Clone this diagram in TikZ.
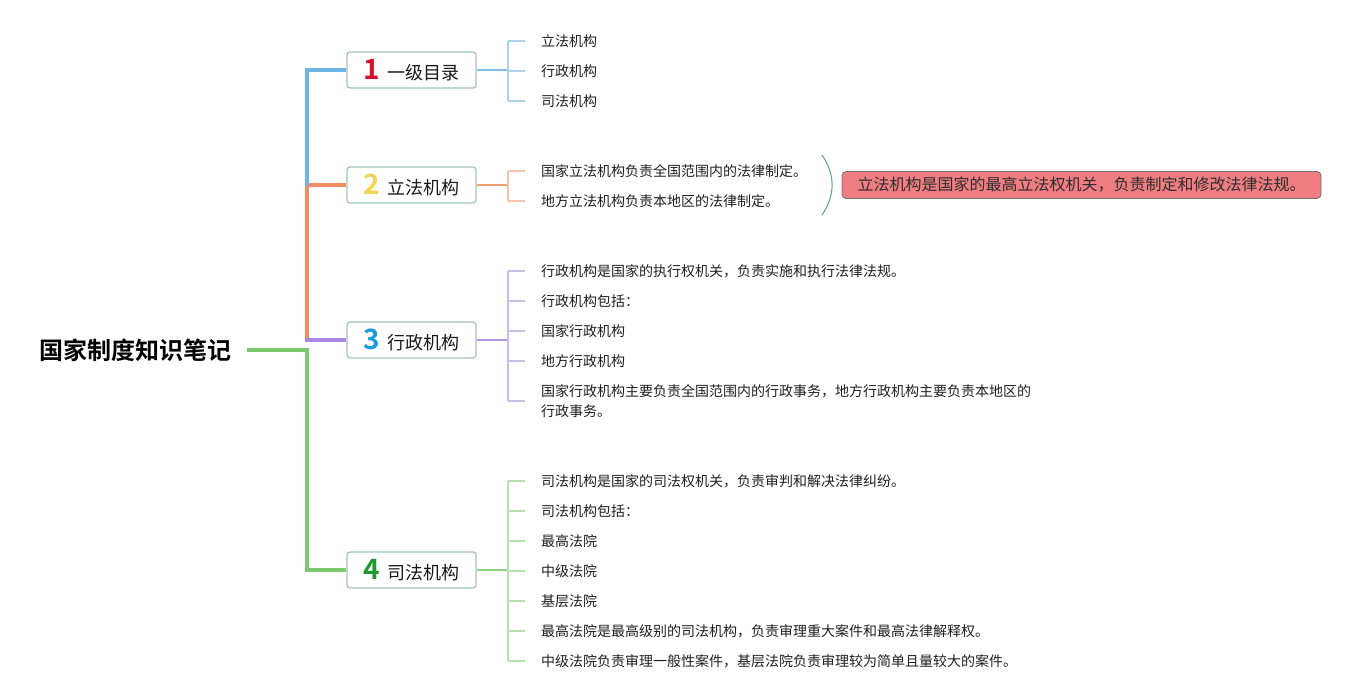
\documentclass[tikz,border=0pt]{standalone}
\usepackage{fontspec}
\setmainfont{Noto Sans CJK SC}[BoldFont={Noto Sans CJK SC Bold}]
\definecolor{cblue}{HTML}{6CB4E4}
\definecolor{cblueL}{HTML}{A9D3EE}
\definecolor{corange}{HTML}{F18C5E}
\definecolor{corangeL}{HTML}{F6C3A8}
\definecolor{cpurple}{HTML}{A786E4}
\definecolor{cpurpleL}{HTML}{CBBBEA}
\definecolor{cgreen}{HTML}{7BC86F}
\definecolor{cgreenL}{HTML}{B6E0AE}
\definecolor{boxborder}{HTML}{9DC4BC}
\definecolor{nred}{HTML}{D8102C}
\definecolor{nyellow}{HTML}{F3D64E}
\definecolor{nblue}{HTML}{1E9AE0}
\definecolor{ngreen}{HTML}{1C9A2C}
\definecolor{callfill}{HTML}{F07D81}
\definecolor{braceC}{HTML}{5E9E8E}
\newcommand\bignum[2]{{\color{#1}\fontsize{28}{28}\selectfont\bfseries #2}}
\tikzset{
  rootst/.style={anchor=east, inner xsep=15pt, inner ysep=0pt, font=\fontsize{24}{28}\selectfont\bfseries, text=black},
  mainbox/.style={draw=boxborder, line width=1.2pt, rounded corners=3pt, fill=white, minimum width=129pt, minimum height=36pt, inner sep=0pt, font=\fontsize{18}{20}\selectfont, text=black!90},
  leaf/.style={anchor=west, inner sep=0pt, font=\fontsize{14}{20}\selectfont, text=black!88, align=left},
  trunk/.style={line width=4.5pt},
  sub/.style={line width=2pt},
  leafl/.style={line width=1.2pt},
  callout/.style={fill=callfill, draw=black!55, line width=0.8pt, rounded corners=4pt, minimum width=479pt, minimum height=27pt, inner sep=0pt, font=\fontsize{16}{18}\selectfont, text=black!82},
}
\begin{document}
\begin{tikzpicture}[x=1pt,y=-1pt]
\useasboundingbox (0,0) rectangle (1366,700);
% root and main boxes
\node[rootst] (root) at (247,350) {国家制度知识笔记};
\node[mainbox] (m1) at (411.5,70) {\bignum{nred}{1}\hspace{8pt}一级目录};
\node[mainbox] (m2) at (411.5,185) {\bignum{nyellow}{2}\hspace{8pt}立法机构};
\node[mainbox] (m3) at (411.5,340) {\bignum{nblue}{3}\hspace{8pt}行政机构};
\node[mainbox] (m4) at (411.5,570) {\bignum{ngreen}{4}\hspace{8pt}司法机构};
% trunk
\coordinate (j1) at (307,185);
\coordinate (j3) at (307,340);
\coordinate (j4) at (307,350);
\draw[trunk, cgreen] (root.east) -- (j4) |- (m4.west);
\draw[trunk, corange] (j3) |- (m2.west);
\draw[trunk, cpurple] ([xshift=-2.25pt]j3) -- (m3.west);
\draw[trunk, cblue] ([yshift=-1pt]j1) |- (m1.west);
% group 1
\node[leaf] (l11) at (541,41) {立法机构};
\node[leaf] (l12) at (541,71) {行政机构};
\node[leaf] (l13) at (541,101) {司法机构};
\coordinate (b1) at (508,70);
\draw[sub, cblue!85] (m1.east) -- (b1);
\draw[leafl, cblueL] (b1 |- l11.west) -- (b1 |- l13.west);
\foreach \n in {l11,l12,l13} \draw[leafl, cblueL] (b1 |- \n.west) -- ([xshift=-16pt]\n.west);
% group 2
\node[leaf] (l21) at (541,171) {国家立法机构负责全国范围内的法律制定。};
\node[leaf] (l22) at (541,201) {地方立法机构负责本地区的法律制定。};
\coordinate (b2) at (508,185);
\draw[sub, corange!85] (m2.east) -- (b2);
\draw[leafl, corangeL] (b2 |- l21.west) -- (b2 |- l22.west);
\foreach \n in {l21,l22} \draw[leafl, corangeL] (b2 |- \n.west) -- ([xshift=-16pt]\n.west);
\draw[braceC, line width=1pt] (822,155) .. controls (835.5,175) and (835.5,195) .. (822,215);
\node[callout] (c2) at (1081.5,185) {立法机构是国家的最高立法权机关，负责制定和修改法律法规。};
% group 3
\node[leaf] (l31) at (541,271) {行政机构是国家的执行权机关，负责实施和执行法律法规。};
\node[leaf] (l32) at (541,301) {行政机构包括：};
\node[leaf] (l33) at (541,331) {国家行政机构};
\node[leaf] (l34) at (541,361) {地方行政机构};
\node[leaf] (l35) at (541,401) {国家行政机构主要负责全国范围内的行政事务，地方行政机构主要负责本地区的\\行政事务。};
\coordinate (b3) at (508,340);
\draw[sub, cpurple!85] (m3.east) -- (b3);
\draw[leafl, cpurpleL] (b3 |- l31.west) -- (b3 |- l35.west);
\foreach \n in {l31,l32,l33,l34,l35} \draw[leafl, cpurpleL] (b3 |- \n.west) -- ([xshift=-16pt]\n.west);
% group 4
\node[leaf] (l41) at (541,481) {司法机构是国家的司法权机关，负责审判和解决法律纠纷。};
\node[leaf] (l42) at (541,511) {司法机构包括：};
\node[leaf] (l43) at (541,541) {最高法院};
\node[leaf] (l44) at (541,571) {中级法院};
\node[leaf] (l45) at (541,601) {基层法院};
\node[leaf] (l46) at (541,631) {最高法院是最高级别的司法机构，负责审理重大案件和最高法律解释权。};
\node[leaf] (l47) at (541,661) {中级法院负责审理一般性案件，基层法院负责审理较为简单且量较大的案件。};
\coordinate (b4) at (508,570);
\draw[sub, cgreen!85] (m4.east) -- (b4);
\draw[leafl, cgreenL] (b4 |- l41.west) -- (b4 |- l47.west);
\foreach \n in {l41,l42,l43,l44,l45,l46,l47} \draw[leafl, cgreenL] (b4 |- \n.west) -- ([xshift=-16pt]\n.west);
\end{tikzpicture}
\end{document}
